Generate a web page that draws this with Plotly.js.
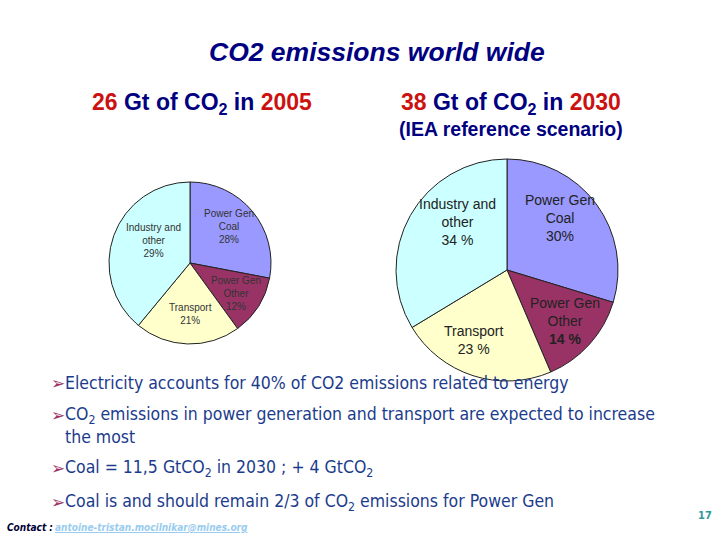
<!DOCTYPE html>
<html>
<head>
<meta charset="utf-8">
<script src="https://cdn.plot.ly/plotly-3.0.1.min.js"></script>
<style>html,body{margin:0;padding:0;background:#fff;}#chart{width:720px;height:540px;}</style>
</head>
<body>
<div id="chart"></div>
<script>
// ---- data ----
const categories = ["Power Gen Coal", "Power Gen Other", "Transport", "Industry and other"];
const labels2005 = ["Power Gen<br>Coal", "Power Gen<br>Other", "Transport", "Industry and<br>other"];
const values2005 = [28, 12, 21, 39];          // slice sizes as drawn
const pctText2005 = ["28%", "12%", "21%", "29%"]; // percentages as printed
const labels2030 = ["Power Gen<br>Coal", "Power Gen<br>Other", "Transport", "Industry and<br>other"];
const values2030 = [30, 14, 23, 34];
const pctText2030 = ["30%", "<b>14 %</b>", "23 %", "34 %"];
const colors = ["#9999FF", "#993366", "#FFFFCC", "#CCFFFF"];

// label placement (layout only): centre of each slice label, in page pixels
const labelPos2005 = [[229, 226], [236, 293], [190, 314], [153, 240]];
const labelPos2030 = [[560, 218], [565, 321], [474, 340], [457, 222]];

const px = x => x / 720;
const py = y => 1 - y / 540;

function pieTrace(values, cx, cy, r) {
  return {
    type: "pie",
    values: values,
    labels: categories,
    textinfo: "none",
    sort: false,
    direction: "clockwise",
    rotation: 0,
    marker: {colors: colors, line: {color: "#222", width: 1}},
    domain: {x: [px(cx - r), px(cx + r)], y: [py(cy + r), py(cy - r)]},
    hoverinfo: "label+percent",
    showlegend: false
  };
}
const pie2005 = pieTrace(values2005, 190, 263, 81);
const pie2030 = pieTrace(values2030, 507, 270, 111);

const navy = "#000080";
const red = "#CC1111";
const bulletColor = "#1B3C8C";
const arrowColor = "#993366";
const bullets = [
  {y: 383, text: "Electricity accounts for 40% of CO2 emissions related to energy"},
  {y: 415, text: "CO<sub>2</sub> emissions in power generation and transport are expected to increase"},
  {y: 437, text: "the most", noArrow: true},
  {y: 468, text: "Coal = 11,5 GtCO<sub>2</sub> in 2030 ; + 4 GtCO<sub>2</sub>"},
  {y: 502, text: "Coal is and should remain 2/3 of CO<sub>2</sub> emissions for Power Gen"}
];
const bulletFont = {family: "DejaVu Sans Condensed, DejaVu Sans, sans-serif", size: 17.5, color: bulletColor};
const arial = "Liberation Sans, Arial, sans-serif";

const annotations = [
  {x: px(377), y: py(52), text: "<b><i>CO2 emissions world wide</i></b>",
   font: {family: arial, size: 26.5, color: navy}},
  {x: px(202), y: py(103), text: "<b><span style='color:" + red + "'>26</span> Gt of CO<sub>2</sub> in <span style='color:" + red + "'>2005</span></b>",
   font: {family: arial, size: 23, color: navy}},
  {x: px(511), y: py(103), text: "<b><span style='color:" + red + "'>38</span> Gt of CO<sub>2</sub> in <span style='color:" + red + "'>2030</span></b>",
   font: {family: arial, size: 23, color: navy}},
  {x: px(511), y: py(129), text: "<b>(IEA reference scenario)</b>",
   font: {family: arial, size: 19.5, color: navy}},
  {x: px(5), y: py(527), xanchor: "left", text: "<b><i>Contact : </i></b>",
   font: {family: "DejaVu Sans Condensed, sans-serif", size: 10, color: "#000033"}},
  {x: px(53), y: py(527), xanchor: "left", text: "<b><i><u>antoine-tristan.mocilnikar@mines.org</u></i></b>",
   font: {family: "DejaVu Sans Condensed, sans-serif", size: 10, color: "#99CCEE"}},
  {x: px(705), y: py(515), text: "<b>17</b>",
   font: {family: "DejaVu Sans Condensed, sans-serif", size: 11, color: "#339999"}}
];
labels2005.forEach((l, i) => {
  annotations.push({x: px(labelPos2005[i][0]), y: py(labelPos2005[i][1]),
    text: l + "<br>" + pctText2005[i], font: {family: arial, size: 10, color: "#333"}});
});
labels2030.forEach((l, i) => {
  annotations.push({x: px(labelPos2030[i][0]), y: py(labelPos2030[i][1]),
    text: l + "<br>" + pctText2030[i], font: {family: arial, size: 14, color: "#222"}});
});
bullets.forEach(b => {
  if (!b.noArrow) {
    annotations.push({x: px(58), y: py(b.y), text: "➢",
      font: {family: "DejaVu Sans, sans-serif", size: 17, color: arrowColor}});
  }
  annotations.push({x: px(63), y: py(b.y), xanchor: "left", text: b.text, font: bulletFont});
});
annotations.forEach(a => {
  a.xref = "paper"; a.yref = "paper"; a.showarrow = false;
  if (!a.xanchor) a.xanchor = "center";
  a.yanchor = "middle";
});

const layout = {
  width: 720, height: 540,
  margin: {l: 0, r: 0, t: 0, b: 0},
  paper_bgcolor: "#ffffff",
  plot_bgcolor: "#ffffff",
  showlegend: false,
  annotations: annotations
};
Plotly.newPlot("chart", [pie2005, pie2030], layout, {displayModeBar: false, staticPlot: true});
</script>
</body>
</html>
